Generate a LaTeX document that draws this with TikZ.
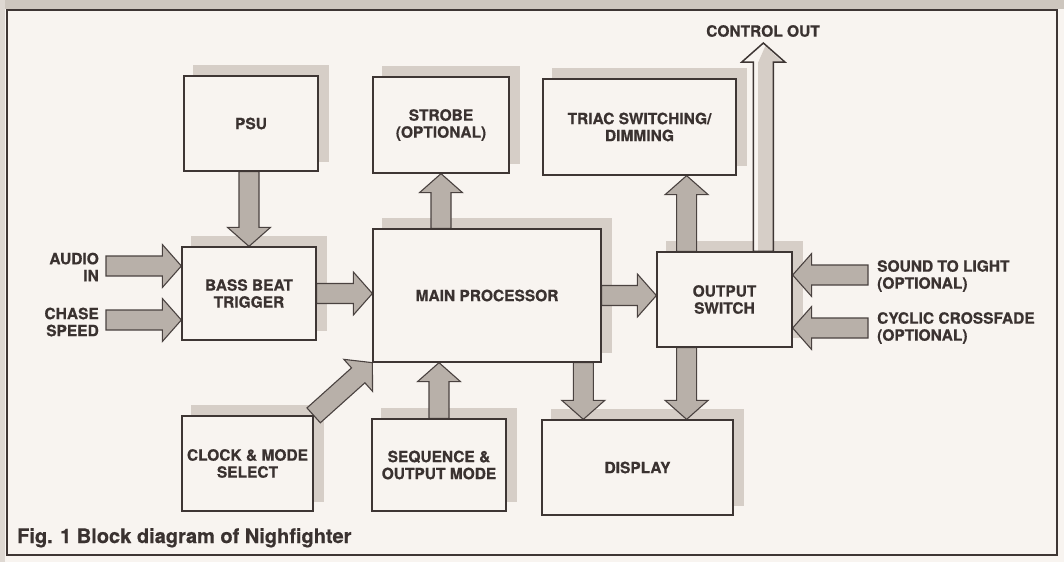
\documentclass[tikz,border=0pt]{standalone}
\usepackage{fontspec}
\setmainfont{TeX Gyre Heros}[BoldFeatures={FakeBold=0.6}]
\usetikzlibrary{calc}
\definecolor{paper}{HTML}{F8F4F0}
\definecolor{boxline}{HTML}{3E3634}
\definecolor{arrline}{HTML}{4A4240}
\definecolor{arrfill}{HTML}{B8B0A9}
\definecolor{shadowc}{HTML}{D6CEC7}
\definecolor{bandc}{HTML}{CDC6BE}
\definecolor{txt}{HTML}{3A3230}
\newcommand\blab{\fontsize{15.5}{17}\selectfont\bfseries}
\pgfdeclarelayer{back}
\pgfdeclarelayer{bg}
\pgfdeclarelayer{mid}
\pgfsetlayers{back,bg,mid,main}
\newcommand\fatarrow[3][]{%
  \path (#2) coordinate (faS) (#3) coordinate (faE);
  \path ($(faE)!19pt!(faS)$) coordinate (faH);
  \draw[fatarr,#1] ($(faS)!10pt!90:(faE)$) -- ($(faH)!10pt!90:(faE)$)
    -- ($(faH)!21.5pt!90:(faE)$) -- (faE) -- ($(faH)!21.5pt!-90:(faE)$)
    -- ($(faH)!10pt!-90:(faE)$) -- ($(faS)!10pt!-90:(faE)$) -- cycle;
}
\begin{document}
\begin{tikzpicture}[x=1pt,y=-1pt,
  box/.style={draw=boxline, line width=1.3pt, fill=paper, text=txt, font=\blab, align=center, inner sep=0pt},
  fatarr/.style={draw=arrline, line width=1.1pt, fill=arrfill, line join=miter},
  lbl/.style={text=txt, font=\blab, inner sep=0pt}]
\useasboundingbox (0,0) rectangle (1064,562);
\begin{pgfonlayer}{back}
\fill[paper] (0,0) rectangle (1064,562);
\fill[bandc] (0,0) rectangle (1064,9);
\fill[bandc!60!paper] (0,0) rectangle (5,562);
\end{pgfonlayer}
\draw[boxline, line width=2pt] (7,10) rectangle (1057,555);

% boxes
\node[box, minimum width=134pt, minimum height=95pt] (psu) at (251,123.5) {PSU};
\node[box, minimum width=136pt, minimum height=96pt] (strobe) at (441,125) {STROBE\\(OPTIONAL)};
\node[box, minimum width=193pt, minimum height=96pt] (triac) at (639.5,127) {TRIAC SWITCHING/\\DIMMING};
\node[box, minimum width=134pt, minimum height=93pt] (bbt) at (249,293.5) {BASS BEAT\\TRIGGER};
\node[box, minimum width=228pt, minimum height=133pt] (mp) at (487,295.5) {MAIN PROCESSOR};
\node[box, minimum width=135pt, minimum height=95pt] (os) at (724.5,299.5) {OUTPUT\\SWITCH};
\node[box, minimum width=131pt, minimum height=95pt] (clock) at (247.5,463.5) {CLOCK \& MODE\\SELECT};
\node[box, minimum width=134pt, minimum height=92pt] (seq) at (439,465) {SEQUENCE \&\\OUTPUT MODE};
\node[box, minimum width=191pt, minimum height=95pt] (display) at (637.5,467.5) {DISPLAY};

% labels
\node[lbl, anchor=east, align=right] (audio) at (99,267) {AUDIO\\IN};
\node[lbl, anchor=east, align=right] (chase) at (99,322) {CHASE\\SPEED};
\node[lbl, anchor=west, align=left] (snd) at (877,276) {SOUND TO LIGHT\\(OPTIONAL)};
\node[lbl, anchor=west, align=left] (cyc) at (877,328) {CYCLIC CROSSFADE\\(OPTIONAL)};
\node[lbl] (ctl) at (763,31) {CONTROL OUT};
\node[anchor=base west, inner sep=0pt, text=txt, font=\fontsize{20}{22}\selectfont\bfseries] (cap) at (17,543) {Fig. 1 Block diagram of Nighfighter};

% shadows
\begin{pgfonlayer}{bg}
\foreach \n in {psu,strobe,triac,bbt,mp,os,clock,seq,display}{
  \fill[shadowc] ([shift={(10,-10)}]\n.south west) rectangle ([shift={(10,-10)}]\n.north east);
}
\end{pgfonlayer}

% connector end points
\coordinate (audioS) at (106,266);
\coordinate (chaseS) at (106,320);
\coordinate (sndS) at (868,275);
\coordinate (cycS) at (868,328);
\coordinate (ctlT) at (763,43);
\coordinate (osT1) at ($(os.north west)!0.222!(os.north east)$);
\coordinate (osT2) at ($(os.north west)!0.785!(os.north east)$);
\coordinate (osB) at ($(os.south west)!0.222!(os.south east)$);
\coordinate (mpB) at ($(mp.south west)!0.92!(mp.south east)$);

\begin{pgfonlayer}{mid}
\fatarrow{bbt.north |- psu.south}{bbt.north}
\fatarrow{audioS}{bbt.west |- audioS}
\fatarrow{chaseS}{bbt.west |- chaseS}
\fatarrow{bbt.east}{mp.west |- bbt.east}
\fatarrow{strobe.south |- mp.north}{strobe.south}
\fatarrow{mp.east}{os.west |- mp.east}
\fatarrow{osT1}{osT1 |- triac.south}
% control out: light arrow with shaded right part
\fatarrow[fill=paper, draw=none]{osT2}{osT2 |- ctlT}
\fill[shadowc] ([xshift=-5pt]osT2) rectangle ([xshift=9.4pt]osT2 |- faH);
\fill[shadowc] ([xshift=-5pt]faH) -- ([xshift=19pt]faH) -- ([xshift=2pt,yshift=-3pt]faE) -- cycle;
\fatarrow[fill=none, draw=boxline, line width=1.5pt]{osT2}{osT2 |- ctlT}
\fatarrow{sndS}{os.east |- sndS}
\fatarrow{cycS}{os.east |- cycS}
\fatarrow{mpB}{mpB |- display.north}
\fatarrow{osB}{osB |- display.north}
\fatarrow{seq.north}{seq.north |- mp.south}
\fatarrow{clock.north east}{mp.south west}
\end{pgfonlayer}
\end{tikzpicture}
\end{document}
